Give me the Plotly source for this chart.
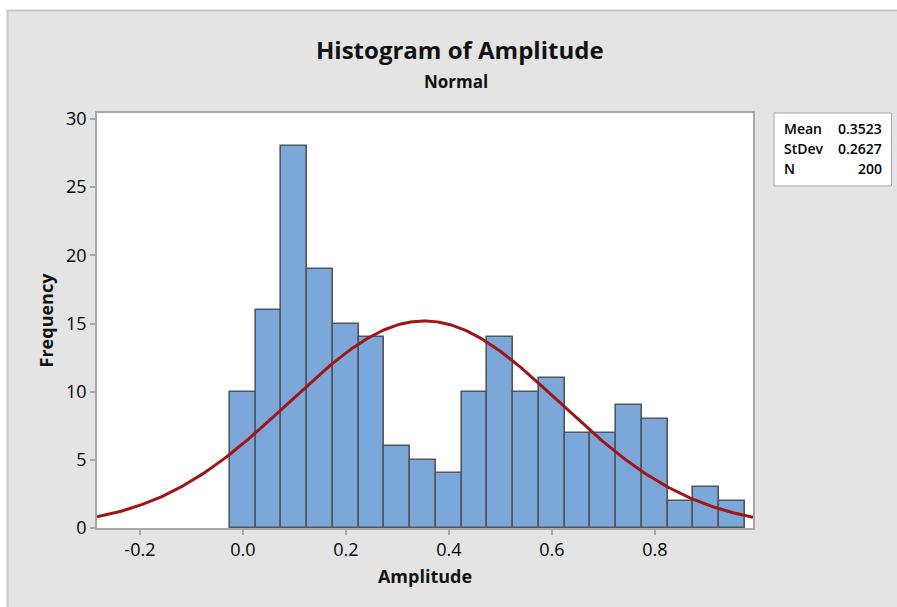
import numpy as np
import plotly.graph_objects as go

# Histogram counts for Amplitude, bins of width 0.05 centred on 0.00 ... 0.95
bin_centers = [0.00, 0.05, 0.10, 0.15, 0.20, 0.25, 0.30, 0.35, 0.40, 0.45,
               0.50, 0.55, 0.60, 0.65, 0.70, 0.75, 0.80, 0.85, 0.90, 0.95]
counts = [10, 16, 28, 19, 15, 14, 6, 5, 4, 10,
          14, 10, 11, 7, 7, 9, 8, 2, 3, 2]
bin_width = 0.05

# Fitted normal summary
mean = 0.3523
stdev = 0.2627
n_obs = 200

x_ticks = [-0.2, 0.0, 0.2, 0.4, 0.6, 0.8]
x_tick_text = ["-0.2", "0.0", "0.2", "0.4", "0.6", "0.8"]
y_ticks = [0, 5, 10, 15, 20, 25, 30]

x_range = [-0.2833, 0.9907]
y_range = [0, 30.44]

FONT = "Open Sans"
W, H = 897, 607
ML, MR, MT, MB = 97, 144, 113, 79
PW, PH = W - ML - MR, H - MT - MB


def px_x(px):
    return (px - ML) / PW


def px_y(py):
    return (H - MB - py) / PH


# Normal curve scaled to the histogram (count per bin)
xs = np.linspace(x_range[0], x_range[1], 300)
ys = n_obs * bin_width / (stdev * np.sqrt(2 * np.pi)) * np.exp(-0.5 * ((xs - mean) / stdev) ** 2)

fig = go.Figure()
fig.add_trace(go.Bar(
    x=bin_centers, y=counts, width=bin_width,
    marker=dict(color="#7BA7D9", line=dict(color="#50565e", width=1.6)),
    hoverinfo="x+y", showlegend=False,
))
fig.add_trace(go.Scatter(
    x=xs, y=ys, mode="lines",
    line=dict(color="#A01515", width=3),
    showlegend=False, hoverinfo="skip",
))

axis_common = dict(
    showline=True, linecolor="#a8a8a8", linewidth=1.5, mirror=True,
    ticks="outside", ticklen=5, tickcolor="#a8a8a8", tickwidth=1.5,
    showgrid=False, zeroline=False,
    tickfont=dict(family=FONT, size=18, color="#000000"),
)

fig.update_layout(
    width=W, height=H,
    margin=dict(l=ML, r=MR, t=MT, b=MB),
    paper_bgcolor="#E4E4E4",
    plot_bgcolor="white",
    bargap=0,
    font=dict(family=FONT, color="#111111"),
    xaxis=dict(
        range=x_range, tickvals=x_ticks, ticktext=x_tick_text,
        title=dict(text="<b>Amplitude</b>", font=dict(family=FONT, size=18), standoff=10),
        **axis_common,
    ),
    yaxis=dict(
        range=y_range, tickvals=y_ticks,
        title=dict(text="<b>Frequency</b>", font=dict(family=FONT, size=18), standoff=8),
        **axis_common,
    ),
)

shapes = [
    # white strips outside the panel frame
    dict(type="rect", xref="paper", yref="paper",
         x0=px_x(-5), x1=px_x(W + 5), y0=px_y(10), y1=px_y(-5),
         fillcolor="white", line=dict(width=0)),
    dict(type="rect", xref="paper", yref="paper",
         x0=px_x(-5), x1=px_x(7), y0=px_y(H + 5), y1=px_y(-5),
         fillcolor="white", line=dict(width=0)),
    # panel frame
    dict(type="rect", xref="paper", yref="paper",
         x0=px_x(7.5), x1=px_x(W + 10), y0=px_y(H + 10), y1=px_y(10.5),
         fillcolor="rgba(0,0,0,0)", line=dict(color="#C9C9C9", width=2)),
    # statistics box
    dict(type="rect", xref="paper", yref="paper",
         x0=px_x(774), x1=px_x(891.5), y0=px_y(186), y1=px_y(113),
         fillcolor="white", line=dict(color="#A8A8A8", width=1)),
]

annotations = [
    dict(text="<b>Histogram of Amplitude</b>", x=px_x(460), y=px_y(50),
         font=dict(family=FONT, size=24, color="#111111")),
    dict(text="<b>Normal</b>", x=px_x(456), y=px_y(82),
         font=dict(family=FONT, size=17, color="#111111")),
]

stat_rows = [("Mean", f"{mean:.4f}"), ("StDev", f"{stdev:.4f}"), ("N", f"{n_obs}")]
for i, (label, value) in enumerate(stat_rows):
    yy = px_y(128 + 20 * i)
    annotations.append(dict(text=label, x=px_x(782), y=yy, xanchor="left",
                            font=dict(family=FONT, size=14, color="#000000", weight=600)))
    annotations.append(dict(text=value, x=px_x(884), y=yy, xanchor="right",
                            font=dict(family=FONT, size=14, color="#000000", weight=600)))

for a in annotations:
    a.update(xref="paper", yref="paper", showarrow=False)
    a.setdefault("xanchor", "center")
    a.setdefault("yanchor", "middle")

fig.update_layout(shapes=shapes, annotations=annotations)
fig.write_html("out.html")
